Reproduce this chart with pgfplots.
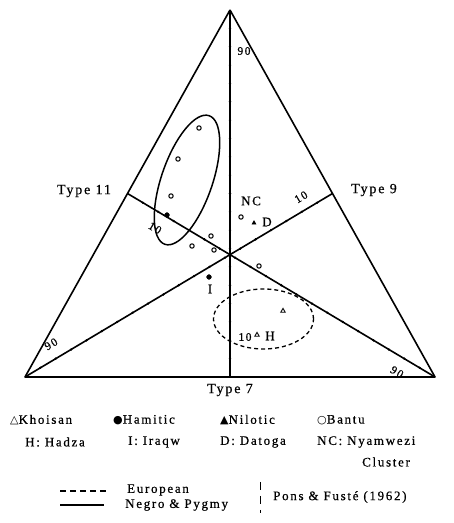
\documentclass[border=0pt]{standalone}
\usepackage{pgfplots}
\pgfplotsset{compat=1.18}
\usepackage{fontspec}
\setmainfont{Liberation Serif}
\newfontfamily\symfont{DejaVu Sans}
\newfontfamily\spfont[LetterSpace=13, FakeBold=0.6]{Liberation Serif}
\newcommand{\sym}[1]{{\fontsize{11}{12}\symfont #1}}

\begin{document}
\begin{tikzpicture}[every node/.style={font=\fontsize{13}{15}\spfont, inner sep=0pt}]
\begin{axis}[
  x=1pt, y=1pt,
  xmin=0, xmax=454, ymin=0, ymax=523,
  hide axis, clip=false,
]
% triangle and medians
\addplot[black, line width=1.6pt, line join=round] coordinates {(230,513)(25,146)(435,146)(230,513)};
\addplot[black, line width=1.6pt] coordinates {(230,513)(230,146)};
\addplot[black, line width=1.6pt] coordinates {(127.5,329.5)(435,146)};
\addplot[black, line width=1.6pt] coordinates {(332.5,329.5)(25,146)};
% scale ticks, every 5 units
\addplot[only marks, mark=*, mark size=1pt] coordinates {
  (230,164.35)(230,182.7)(230,201.05)(230,219.4)(230,237.75)(230,256.1)(230,274.45)
  (230,292.8)(230,311.15)(230,329.5)(230,347.85)(230,366.2)(230,384.55)(230,402.9)
  (230,421.25)(230,439.6)(230,457.95)(230,476.3)(230,494.65)
};
\addplot[only marks, mark=*, mark size=1pt] coordinates {
  (142.875,320.325)(158.25,311.15)(173.625,301.975)(189.0,292.8)(204.375,283.625)
  (219.75,274.45)(235.125,265.275)(250.5,256.1)(265.875,246.925)(281.25,237.75)
  (296.625,228.575)(312.0,219.4)(327.375,210.225)(342.75,201.05)(358.125,191.875)
  (373.5,182.7)(388.875,173.525)(404.25,164.35)(419.625,155.175)
};
\addplot[only marks, mark=*, mark size=1pt] coordinates {
  (317.125,320.325)(301.75,311.15)(286.375,301.975)(271.0,292.8)(255.625,283.625)
  (240.25,274.45)(224.875,265.275)(209.5,256.1)(194.125,246.925)(178.75,237.75)
  (163.375,228.575)(148.0,219.4)(132.625,210.225)(117.25,201.05)(101.875,191.875)
  (86.5,182.7)(71.125,173.525)(55.75,164.35)(40.375,155.175)
};
% scale labels
\node[font=\fontsize{11.5}{13}\spfont] at (axis cs:244,472) {90};
\node[font=\fontsize{11.5}{13}\spfont] at (axis cs:245,186) {10};
\node[font=\fontsize{11.5}{13}\spfont, rotate=-31] at (axis cs:155,295) {10};
\node[font=\fontsize{11.5}{13}\spfont, rotate=-31] at (axis cs:397,151) {90};
\node[font=\fontsize{11.5}{13}\spfont, rotate=31] at (axis cs:301,326) {10};
\node[font=\fontsize{11.5}{13}\spfont, rotate=31] at (axis cs:51,179) {90};
% corner labels
\node[font=\fontsize{14}{16}\spfont] at (axis cs:84,332) {Type 11};
\node[font=\fontsize{14}{16}\spfont] at (axis cs:374,333) {Type 9};
\node[font=\fontsize{14}{16}\spfont] at (axis cs:230,133) {Type 7};

% Bantu (open circles)
\addplot[only marks, mark=o, mark size=2.2pt, line width=1pt] coordinates {
  (199,395)(178,364)(171,327)(192,277)(241,306)(211,287)(214,273)(259,257)
};
% Hamitic (filled circles)
\addplot[only marks, mark=*, mark size=2.4pt] coordinates {(167,308)(209,246)};
% Nilotic (filled triangle)
\addplot[only marks, mark=triangle*, mark size=2.4pt] coordinates {(254,300)};
% Khoisan (open triangles)
\addplot[only marks, mark=triangle, mark size=2.6pt, line width=0.9pt] coordinates {(283,212)(257,188)};

% point labels
\node at (axis cs:251,322) {NC};
\node at (axis cs:267,301) {D};
\node at (axis cs:210,234) {I};
\node at (axis cs:270,187) {H};

% Negro & Pygmy (solid) and European (dashed) ranges
\draw[line width=1.5pt, rotate around={71:(axis cs:187,343)}] (axis cs:187,343) ellipse [x radius=68pt, y radius=25.5pt];
\draw[line width=1.3pt, dash pattern=on 4pt off 3pt] (axis cs:263.5,204) ellipse [x radius=50pt, y radius=30pt];

% key
\node[anchor=west] at (axis cs:10,103) {\sym{△}Khoisan};
\node[anchor=west] at (axis cs:113,103) {\sym{●}Hamitic};
\node[anchor=west] at (axis cs:220,103) {\sym{▲}Nilotic};
\node[anchor=west] at (axis cs:317,103) {\sym{○}Bantu};
\node[anchor=west] at (axis cs:25,81) {H: Hadza};
\node[anchor=west] at (axis cs:128,81) {I: Iraqw};
\node[anchor=west] at (axis cs:220,81) {D: Datoga};
\node[anchor=west] at (axis cs:317,81) {NC: Nyamwezi};
\node[anchor=west] at (axis cs:362,61) {Cluster};
\draw[line width=1.1pt, dash pattern=on 6pt off 4pt] (axis cs:60,32) -- (axis cs:108,32);
\node[anchor=west] at (axis cs:127,33) {European};
\draw[line width=1.1pt] (axis cs:60,18) -- (axis cs:104,18);
\node[anchor=west] at (axis cs:125,18) {Negro \& Pygmy};
\draw[line width=0.8pt, dash pattern=on 8pt off 6pt] (axis cs:260,41) -- (axis cs:260,10);
\node[anchor=west] at (axis cs:273,26) {Pons \& Fusté (1962)};
\end{axis}
\path (current axis.south west) rectangle (current axis.north east);
\end{tikzpicture}
\end{document}
